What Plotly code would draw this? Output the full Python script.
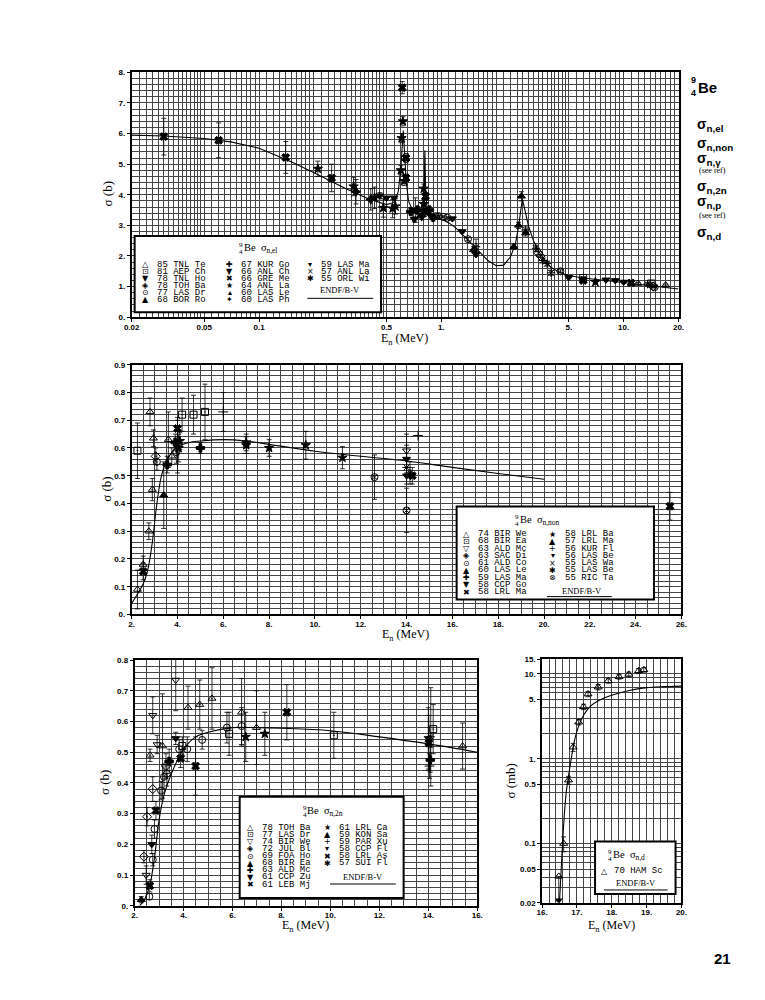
#%% Be-9 neutron cross sections, four panels (page 21)
import numpy as np
import plotly.graph_objects as go

#%% sigma n,el  (top panel, log energy axis)
el_labels = ["85 TNL Te", "81 AEP Ch", "78 TNL Ho", "78 TOH Ba", "77 LAS Dr", "68 BOR Ro",
             "67 KUR Go", "66 ANL Ch", "66 GRE Me", "64 ANL La", "60 LAS Le", "60 LAS Ph",
             "59 LAS Ma", "57 ANL La", "55 ORL Wi"]
el_E = [0.03, 0.06, 0.14, 0.25, 0.61, 6.0, 11.0,
        0.21, 0.33, 0.43, 0.48, 0.54, 0.56, 0.605, 0.60, 0.615, 0.625, 0.80, 0.80, 7.0,
        0.64, 0.64, 0.82, 0.82,
        0.34, 0.41, 0.78,
        0.68, 0.74, 0.86,
        0.46, 0.50, 0.55, 0.71, 0.90,
        0.72, 0.88,
        0.93, 0.97, 1.02, 1.08, 1.40, 4.5, 14.8,
        1.15, 1.30, 1.55, 5.0, 8.0, 9.0, 10.0,
        1.55, 2.9, 3.3, 3.6, 3.8, 4.0, 13.5, 14.0,
        2.5, 2.65, 2.75,
        1.5, 2.9,
        3.4, 3.5, 14.5,
        6.0, 14.2,
        12.0, 17.0]
el_sig = [5.9, 5.78, 5.22, 4.55, 7.5, 1.2, 1.12,
          4.85, 4.27, 3.9, 3.57, 3.55, 3.62, 5.85, 4.8, 6.4, 4.45, 4.2, 3.7, 1.15,
          5.2, 4.55, 3.95, 3.45,
          4.1, 3.85, 3.3,
          3.45, 3.5, 3.5,
          3.97, 3.9, 3.9, 3.2, 3.22,
          3.5, 3.3,
          3.3, 3.3, 3.28, 3.25, 2.55, 1.5, 0.98,
          3.22, 2.8, 2.05, 1.3, 1.22, 1.2, 1.15,
          2.3, 2.85, 2.25, 1.85, 1.75, 1.45, 1.08, 1.05,
          2.3, 3.0, 3.95,
          2.2, 2.75,
          2.1, 2.0, 1.0,
          1.28, 1.1,
          1.1, 1.05]
el_err = [0.6, 0.57, 0.52, 0.45, 0.2, 0.05, 0.05,
          0.25, 0.3, 0.35, 0.3, 0.3, 0.25, 0.15, 0.15, 0.15, 0.15, 0.15, 0.15, 0.05,
          0.15, 0.12, 0.12, 0.1,
          0.4, 0.35, 0.1,
          0.1, 0.1, 0.1,
          0.1, 0.05, 0.05, 0.08, 0.08,
          0.4, 0.1,
          0.03, 0.03, 0.03, 0.03, 0.05, 0.05, 0.03,
          0.05, 0.05, 0.05, 0.04, 0.04, 0.04, 0.04,
          0.25, 0.1, 0.1, 0.08, 0.08, 0.08, 0.04, 0.04,
          0.08, 0.1, 0.15,
          0.1, 0.1,
          0.05, 0.05, 0.03,
          0.04, 0.04,
          0.03, 0.03]
el_set = [8] * 7 + [9] * 13 + [13] * 4 + [11] * 3 + [6] * 3 + [7] * 5 + [12] * 2 + \
         [4] * 7 + [2] * 7 + [14] * 8 + [5] * 3 + [10] * 2 + [3] * 3 + [1] * 2 + [0] * 2
el_curve_E = [0.02, 0.03, 0.05, 0.07, 0.1, 0.15, 0.2, 0.25, 0.3, 0.4, 0.5, 0.55, 0.58,
              0.6, 0.612, 0.618, 0.625, 0.64, 0.66, 0.7, 0.75, 0.79, 0.805, 0.812, 0.82,
              0.84, 0.9, 1.0, 1.1, 1.2, 1.4, 1.6, 1.8, 2.0, 2.2, 2.4, 2.55, 2.65, 2.72,
              2.78, 2.85, 3.0, 3.2, 3.5, 4.0, 4.5, 5.0, 6.0, 8.0, 10.0, 14.0, 20.0]
el_curve_sig = [5.95, 5.92, 5.84, 5.73, 5.52, 5.08, 4.72, 4.43, 4.2, 3.86, 3.68, 3.75, 4.1,
                4.9, 5.9, 6.1, 5.6, 4.5, 3.8, 3.45, 3.38, 3.4, 4.2, 5.45, 4.0,
                3.45, 3.3, 3.2, 3.08, 2.92, 2.52, 2.15, 1.85, 1.68, 1.7, 1.98, 2.4, 2.95, 3.55,
                3.85, 3.6, 3.0, 2.5, 2.05, 1.62, 1.45, 1.36, 1.28, 1.2, 1.13, 1.03, 0.92]
el_xticks = [0.02, 0.05, 0.1, 0.5, 1, 5, 10, 20]
el_xticktext = ["0.02", "0.05", "0.1", "0.5", "1.", "5.", "10.", "20."]
el_yticks = [0, 1, 2, 3, 4, 5, 6, 7, 8]
el_yticktext = ["0.", "1.", "2.", "3.", "4.", "5.", "6.", "7.", "8."]

#%% sigma n,non  (middle panel)
non_labels = ["74 BIR We", "68 BIR Ea", "63 ALD Mc", "63 SAC Di", "61 ALD Co", "60 LAS Le",
              "59 LAS Ma", "58 CCP Go", "58 LRL Ma", "58 LRL Ba", "57 LRL Ma", "56 KUR Fl",
              "56 LAS Be", "55 LAS Wa", "55 LAS Be", "55 RIC Ta"]
non_E = [2.25, 2.25, 2.5, 2.5, 2.75, 2.8, 2.95, 2.9, 3.05, 3.1, 3.4, 3.55, 3.6, 3.75, 3.9,
         3.95, 4.0, 4.0, 4.05, 4.1, 4.2, 4.7, 5.2, 5.0, 6.0, 7.0, 7.0, 8.0, 9.6, 11.2, 12.6,
         14.0, 14.0, 14.0, 14.0, 14.15, 14.25, 14.0, 14.5, 25.5]
non_sig = [0.09, 0.59, 0.18, 0.155, 0.30, 0.73, 0.635, 0.45, 0.57, 0.55, 0.43, 0.54, 0.63, 0.57,
           0.62, 0.585, 0.67, 0.61, 0.60, 0.625, 0.72, 0.72, 0.73, 0.60, 0.73, 0.62, 0.61, 0.60,
           0.61, 0.565, 0.495, 0.59, 0.56, 0.53, 0.50, 0.51, 0.50, 0.375, 0.645, 0.39]
non_err = [0.07, 0.10, 0.03, 0.03, 0.03, 0.05, 0.03, 0.04, 0.03, 0.03, 0.12, 0.03, 0.10, 0.03,
           0.03, 0.04, 0.03, 0.10, 0.05, 0.03, 0.06, 0.07, 0.10, 0.02, 0.07, 0.03, 0.03, 0.03,
           0.05, 0.04, 0.08, 0.06, 0.05, 0.03, 0.03, 0.04, 0.03, 0.08, 0.0, 0.05]
non_set = [0, 1, 0, 8, 0, 0, 0, 5, 3, 4, 10, 6, 5, 0, 6, 4, 8, 3, 9, 9, 1, 1, 1, 6, 11, 9, 9,
           9, 9, 9, 15, 2, 7, 14, 12, 14, 13, 15, 11, 13]
non_curve_E = [2.0, 2.3, 2.5, 2.7, 2.9, 3.1, 3.3, 3.5, 3.8, 4.0, 4.5, 5.0, 6.0, 7.0, 8.0,
               10.0, 12.0, 14.0, 16.0, 18.0, 20.0]
non_curve_sig = [0.04, 0.08, 0.11, 0.16, 0.26, 0.40, 0.50, 0.55, 0.59, 0.605, 0.62, 0.625,
                 0.63, 0.625, 0.613, 0.588, 0.57, 0.553, 0.53, 0.508, 0.487]
non_xticks = [2, 4, 6, 8, 10, 12, 14, 16, 18, 20, 22, 24, 26]
non_xticktext = ["2.", "4.", "6.", "8.", "10.", "12.", "14.", "16.", "18.", "20.", "22.", "24.", "26."]
non_yticks = [0, 0.1, 0.2, 0.3, 0.4, 0.5, 0.6, 0.7, 0.8, 0.9]
non_yticktext = ["0.", "0.1", "0.2", "0.3", "0.4", "0.5", "0.6", "0.7", "0.8", "0.9"]

#%% sigma n,2n  (bottom left)
n2n_labels = ["78 TOH Ba", "77 LAS Dr", "74 BIR We", "72 JUL Bl", "69 FOA Ho", "68 BIR Ea",
              "63 ALD Mc", "61 CCP Zu", "61 LEB Mj", "61 LRL Ca", "59 KON Sa", "59 PAR Xu",
              "58 CCP Fl", "58 LRL As", "57 SUI Fl"]
n2n_E = [2.27, 2.38, 2.47, 2.51, 2.6, 2.62, 2.63, 2.7, 2.74, 2.74, 2.74, 2.81, 2.87, 2.92,
         3.08, 3.14, 3.2, 3.28, 3.32, 3.41, 3.68, 3.68, 3.82, 3.88, 3.95, 4.15, 4.18, 4.49,
         4.66, 4.76, 5.16, 5.77, 5.86, 6.37, 6.37, 6.54, 6.98, 7.32, 8.22, 10.14, 14.0,
         14.02, 14.05, 14.08, 14.1, 14.2, 15.4]
n2n_sig = [0.02, 0.16, 0.10, 0.29, 0.03, 0.065, 0.49, 0.20, 0.38, 0.62, 0.15, 0.25, 0.31,
           0.525, 0.375, 0.52, 0.42, 0.455, 0.43, 0.47, 0.735, 0.545, 0.51, 0.48, 0.52, 0.51,
           0.645, 0.455, 0.655, 0.54, 0.675, 0.58, 0.56, 0.585, 0.63, 0.55, 0.58, 0.56, 0.63,
           0.555, 0.545, 0.53, 0.455, 0.475, 0.55, 0.575, 0.52]
n2n_err = [0.01, 0.02, 0.03, 0.03, 0.01, 0.02, 0.02, 0.03, 0.04, 0.06, 0.02, 0.03, 0.03,
           0.03, 0.03, 0.17, 0.04, 0.04, 0.04, 0.04, 0.10, 0.02, 0.03, 0.03, 0.03, 0.04,
           0.07, 0.095, 0.08, 0.03, 0.10, 0.05, 0.07, 0.06, 0.11, 0.08, 0.12, 0.07, 0.09,
           0.075, 0.10, 0.09, 0.04, 0.04, 0.16, 0.08, 0.075]
n2n_set = [10, 3, 2, 3, 4, 8, 5, 7, 3, 2, 4, 4, 8, 2, 4, 5, 4, 3, 3, 6, 2, 12, 4, 13, 1, 4,
           5, 8, 5, 4, 5, 4, 1, 4, 0, 9, 0, 9, 13, 1, 12, 13, 11, 6, 14, 1, 0]
n2n_curve_E = [2.2, 2.4, 2.6, 2.8, 3.0, 3.2, 3.5, 4.0, 4.5, 5.0, 6.0, 7.0, 8.0, 10.0, 12.0,
               14.0, 16.0]
n2n_curve_sig = [0.0, 0.02, 0.06, 0.15, 0.28, 0.36, 0.43, 0.51, 0.55, 0.565, 0.58, 0.58,
                 0.578, 0.57, 0.55, 0.527, 0.50]
n2n_xticks = [2, 4, 6, 8, 10, 12, 14, 16]
n2n_xticktext = ["2.", "4.", "6.", "8.", "10.", "12.", "14.", "16."]
n2n_yticks = [0, 0.1, 0.2, 0.3, 0.4, 0.5, 0.6, 0.7, 0.8]
n2n_yticktext = ["0.", "0.1", "0.2", "0.3", "0.4", "0.5", "0.6", "0.7", "0.8"]

#%% sigma n,d  (bottom right, mb, log)
nd_labels = ["70 HAM Sc"]
nd_E = [16.48, 16.62, 16.76, 16.89, 17.05, 17.19, 17.32, 17.61, 17.90, 18.21, 18.49, 18.77, 18.92]
nd_sig = [0.041, 0.10, 0.56, 1.37, 2.7, 4.1, 5.8, 7.0, 8.3, 9.3, 9.9, 10.9, 11.2]
nd_err_up = [0.0, 0.02, 0.06, 0.15, 0.2, 0.3, 0.4, 0.5, 0.5, 0.6, 0.6, 0.7, 0.7]
nd_err_dn = [0.02, 0.02, 0.06, 0.15, 0.2, 0.3, 0.4, 0.5, 0.5, 0.6, 0.6, 0.7, 0.7]
nd_limit_E = [16.48]
nd_limit_sig = [0.0215]
nd_curve_E = [16.5, 16.55, 16.6, 16.65, 16.7, 16.8, 16.9, 17.0, 17.2, 17.4, 17.6, 18.0,
              18.5, 19.0, 19.5, 20.0]
nd_curve_sig = [0.02, 0.05, 0.12, 0.25, 0.42, 0.8, 1.4, 2.1, 3.3, 4.2, 4.8, 5.6, 6.4, 6.9,
                7.1, 7.2]
nd_xticks = [16, 17, 18, 19, 20]
nd_xticktext = ["16.", "17.", "18.", "19.", "20."]
nd_yticks = [0.02, 0.05, 0.1, 0.5, 1, 5, 10, 15]
nd_yticktext = ["0.02", "0.05", "0.1", "0.5", "1.", "5.", "10.", "15."]

side_labels = ["σ<sub>n,el</sub>", "σ<sub>n,non</sub>", "σ<sub>n,γ</sub>", "(see ref)",
               "σ<sub>n,2n</sub>", "σ<sub>n,p</sub>", "(see ref)", "σ<sub>n,d</sub>"]
page_number = "21"

#%% styles
W, H = 765, 1000
GRID = "#454545"
EL_SYM = ["triangle-up-open", "square-open-dot", "triangle-down", "diamond-open-dot",
          "circle-open-dot", "triangle-up", "cross", "triangle-down", "x", "star",
          "triangle-up", "star-diamond", "triangle-down", "x", "asterisk-open"]
EL_GLYPH = ["△", "⊡", "▼", "◈", "⊙", "▲", "✚", "▼", "✖", "★", "▴", "✦", "▾", "×", "✱"]
NON_SYM = ["triangle-up-open", "square-open-dot", "triangle-down-open", "diamond-open-dot",
           "circle-open-dot", "triangle-up-open-dot", "cross", "triangle-down", "x", "star",
           "triangle-up", "cross-thin-open", "triangle-down", "x", "asterisk-open",
           "circle-x-open"]
NON_GLYPH = ["△", "⊡", "▽", "◈", "⊙", "▲", "✚", "▼", "✖", "★", "▲", "+", "▾", "×", "✱", "⊗"]
N2N_SYM = ["triangle-up-open", "square-open-dot", "triangle-down-open", "diamond-open-dot",
           "circle-open", "triangle-up-open-dot", "cross", "triangle-down", "x", "star",
           "triangle-up", "cross-thin-open", "triangle-down", "x", "asterisk-open"]
N2N_GLYPH = ["△", "⊡", "▽", "◈", "⊙", "▲", "✚", "▼", "✖", "★", "▲", "+", "▾", "✖", "✱"]
ND_GLYPH = ["△"]


def px(x):
    return x / W


def py(y):
    return 1 - y / H


def log_grid(lo, hi):
    vals = []
    for p in range(-3, 3):
        d = 10.0 ** p
        vals += list(np.arange(1.0, 2.0, 0.1) * d)
        vals += list(np.arange(2.0, 5.0, 0.2) * d)
        vals += list(np.arange(5.0, 10.0, 0.5) * d)
    return [round(v, 6) for v in vals if lo * 0.999 <= v <= hi * 1.001]


fig = go.Figure()


def add_points(E, sig, err, sets, symbols, xa, ya, size=7):
    E, sig, err, sets = map(np.asarray, (E, sig, err, sets))
    for s, sym in enumerate(symbols):
        m = sets == s
        if not m.any():
            continue
        fig.add_trace(go.Scatter(
            x=E[m], y=sig[m], mode="markers", xaxis=xa, yaxis=ya, showlegend=False,
            marker=dict(symbol=sym, size=size, color="black",
                        line=dict(color="black", width=1)),
            error_y=dict(type="data", array=err[m], color="black", thickness=0.8, width=2.5)))


def add_curve(E, sig, xa, ya, shape="linear"):
    fig.add_trace(go.Scatter(x=E, y=sig, mode="lines", xaxis=xa, yaxis=ya, showlegend=False,
                             line=dict(color="black", width=1.1, shape=shape)))


add_curve(el_curve_E, el_curve_sig, "x", "y")
add_points(el_E, el_sig, el_err, el_set, EL_SYM, "x", "y")
add_curve(non_curve_E, non_curve_sig, "x2", "y2", "spline")
add_points(non_E, non_sig, non_err, non_set, NON_SYM, "x2", "y2")
add_curve(n2n_curve_E, n2n_curve_sig, "x3", "y3", "spline")
add_points(n2n_E, n2n_sig, n2n_err, n2n_set, N2N_SYM, "x3", "y3")
add_curve(nd_curve_E, nd_curve_sig, "x4", "y4", "spline")
fig.add_trace(go.Scatter(
    x=nd_E, y=nd_sig, mode="markers", xaxis="x4", yaxis="y4", showlegend=False,
    marker=dict(symbol="triangle-up-open", size=7, color="black", line=dict(width=1)),
    error_y=dict(type="data", array=nd_err_up, arrayminus=nd_err_dn, color="black",
                 thickness=0.8, width=2.5)))
fig.add_trace(go.Scatter(
    x=nd_limit_E, y=nd_limit_sig, mode="markers", xaxis="x4", yaxis="y4", showlegend=False,
    marker=dict(symbol="triangle-down", size=7, color="black")))


def axis(domain, ticks, text, minor, standoff=0, **kw):
    return dict(domain=domain, tickmode="array", tickvals=ticks, ticktext=text,
                showline=True, linecolor="black", linewidth=1.6, mirror=True,
                ticks="outside", ticklen=3, tickcolor="black", tickwidth=1,
                ticklabelstandoff=standoff,
                tickfont=dict(family="Liberation Sans", size=8, color="black", weight="bold"),
                showgrid=True, gridcolor=GRID, gridwidth=0.8, zeroline=False,
                minor=dict(showgrid=True, gridcolor=GRID, gridwidth=0.55, ticks="", **minor),
                **kw)


L, R = 126, 683
fig.update_layout(
    width=W, height=H, margin=dict(l=0, r=0, t=0, b=0), autosize=False,
    paper_bgcolor="white", plot_bgcolor="white", showlegend=False,
    xaxis=axis([px(L), px(R)], el_xticks, el_xticktext,
               dict(tickmode="array", tickvals=log_grid(0.02, 20)), -2,
               type="log", range=[np.log10(0.02), np.log10(20)], anchor="y"),
    yaxis=axis([py(316), py(69)], el_yticks, el_yticktext, dict(dtick=0.2),
               range=[0, 8], anchor="x"),
    xaxis2=axis([px(L), px(686)], non_xticks, non_xticktext, dict(dtick=0.5), -2,
                range=[2, 26], anchor="y2"),
    yaxis2=axis([py(616), py(364)], non_yticks, non_yticktext, dict(dtick=0.02),
                range=[0, 0.9], anchor="x2"),
    xaxis3=axis([px(129), px(478)], n2n_xticks, n2n_xticktext, dict(dtick=0.5), -2,
                range=[2, 16], anchor="y3"),
    yaxis3=axis([py(910), py(662)], n2n_yticks, n2n_yticktext, dict(dtick=0.02),
                range=[0, 0.8], anchor="x3"),
    xaxis4=axis([px(544), px(686)], nd_xticks, nd_xticktext, dict(dtick=0.2), -2,
                range=[16, 20], anchor="y4"),
    yaxis4=axis([py(907), py(661)], nd_yticks, nd_yticktext, dict(dtick="D1"),
                type="log", range=[np.log10(0.02), np.log10(15)], anchor="x4"),
)

#%% annotations: axis titles, legend boxes, side column
ann = []
shapes = []
SERIF = "Liberation Serif"
MONO = "Liberation Mono"


def text(x, y, s, size=9, family=SERIF, anchor="left", **kw):
    ann.append(dict(x=px(x), y=py(y), xref="paper", yref="paper", text=s, showarrow=False,
                    xanchor=anchor, yanchor="middle", font=dict(family=family, size=size,
                                                                color="black", **kw)))


def axis_titles(xc, xlab_y, yx, yy, ytext="σ (b)"):
    text(xc, xlab_y, "E<sub>n</sub> (MeV)", size=12, anchor="center")
    ann.append(dict(x=px(yx), y=py(yy), xref="paper", yref="paper", text=ytext,
                    showarrow=False, textangle=-90, xanchor="center", yanchor="middle",
                    font=dict(family=SERIF, size=13, color="black")))


axis_titles(404, 338, 101, 192)
axis_titles(405, 637, 100, 490)
axis_titles(303, 930, 99, 786)
axis_titles(615, 930, 512, 784, ytext="σ (mb)")


def legend_box(x0, y0, x1, y1, title_x, title_y, reaction, columns, glyphs, labels,
               row0, dy, endf_xy, endf_line):
    shapes.append(dict(type="rect", xref="paper", yref="paper", x0=px(x0), x1=px(x1),
                       y0=py(y1), y1=py(y0), line=dict(color="black", width=2),
                       fillcolor="white", layer="above"))
    text(title_x, title_y - 3.5, "9", size=7)
    text(title_x, title_y + 3.5, "4", size=7)
    text(title_x + 5, title_y, "Be  σ<sub>" + reaction + "</sub>", size=10.5)
    i = 0
    for (sx, tx, n) in columns:
        for r in range(n):
            yy = row0 + dy * r
            text(sx, yy, glyphs[i], size=8, family="DejaVu Sans", anchor="center")
            text(tx, yy, labels[i], size=9, family=MONO)
            i += 1
    text(endf_xy[0], endf_xy[1], "ENDF/B-V", size=8.5, family=SERIF, anchor="center")
    shapes.append(dict(type="line", xref="paper", yref="paper", x0=px(endf_line[0]),
                       x1=px(endf_line[1]), y0=py(endf_line[2]), y1=py(endf_line[2]),
                       line=dict(color="black", width=1), layer="above"))


legend_box(129, 234, 380, 311, 233, 247, "n,el",
           [(140, 150, 6), (226, 235, 6), (308, 317, 3)], EL_GLYPH, el_labels,
           263, 7.1, (338, 289), (305, 372, 297))
legend_box(457, 507, 658, 601, 514, 521, "n,non",
           [(467, 477, 9), (555, 565, 7)], NON_GLYPH, non_labels,
           535, 7.3, (585, 592), (549, 615, 598))
legend_box(236, 800, 403, 902, 298, 815, "n,2n",
           [(247, 257, 9), (325, 335, 6)], N2N_GLYPH, n2n_labels,
           831, 7.2, (362, 881), (328, 395, 888))
legend_box(598, 845, 680, 898, 609, 859, "n,d",
           [(608, 615, 1)], ND_GLYPH, nd_labels,
           875, 7.2, (640, 887), (607, 672, 894))

# side column
text(694, 77, "9", size=9, family="Liberation Sans", weight="bold")
text(694, 90, "4", size=9, family="Liberation Sans", weight="bold")
text(701, 84, "Be", size=15, family="Liberation Sans", weight="bold")
side_y = [122, 141, 156, 168, 185, 200, 213, 231]
for lab, yy in zip(side_labels, side_y):
    if lab.startswith("("):
        text(702, yy, lab, size=8, family=SERIF)
    else:
        text(700, yy, lab, size=14, family="Liberation Sans", weight="bold")

text(728, 963, page_number, size=15, family="Liberation Sans", weight="bold", anchor="center")

fig.update_layout(annotations=ann, shapes=shapes)
fig.write_html("out.html", config={"displayModeBar": False},
               post_script="document.body.style.margin='0';")
